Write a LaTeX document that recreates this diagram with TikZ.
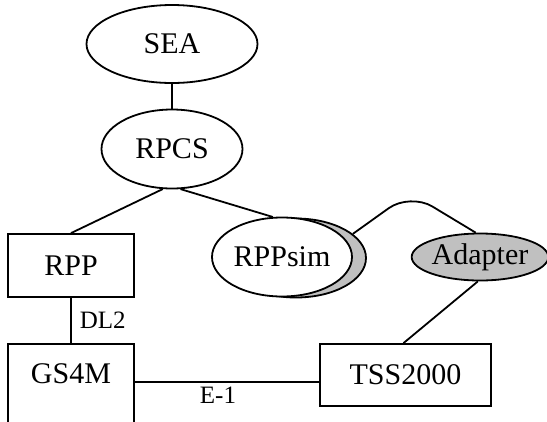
\documentclass[tikz,border=0pt]{standalone}
\usepackage{fontspec}
\setmainfont{Liberation Serif}
\usetikzlibrary{shapes.geometric}
\definecolor{shade}{RGB}{192,192,192}
\tikzset{
  every picture/.style={line width=1.8pt},
  bigtext/.style={font=\fontsize{30}{36}\selectfont},
  smalltext/.style={font=\fontsize{25}{30}\selectfont, inner sep=0pt},
  oval/.style={ellipse, draw, fill=white, inner sep=0pt, bigtext},
  boxnode/.style={rectangle, draw, fill=white, inner sep=0pt, bigtext},
  link/.style={draw, line width=1.8pt}
}
\begin{document}
\begin{tikzpicture}[x=1pt,y=-1pt]
\useasboundingbox (0,0) rectangle (547,421);
\clip (0,0) rectangle (547,421);
\fill[white] (0,0) rectangle (547,421);
\node[oval, minimum width=171pt, minimum height=78pt] (sea) at (172,44) {SEA};
\node[oval, minimum width=141pt, minimum height=79pt] (rpcs) at (172,149) {RPCS};
\node[boxnode, minimum width=126pt, minimum height=63pt] (rpp) at (71,265.5) {RPP};
\node[boxnode, minimum width=126pt, minimum height=100pt, anchor=north] (gs4m) at (71,343) {};
\node[bigtext, inner sep=0pt, anchor=north] (gs4mtext) at (71,363) {GS4M};
\node[ellipse, draw, fill=shade, inner sep=0pt, minimum width=140pt, minimum height=79pt] (rppshadow) at (296,258) {};
\node[oval, minimum width=140pt, minimum height=79pt] (rppsim) at (282,257) {RPPsim};
\node[oval, fill=shade, minimum width=134pt, minimum height=47pt] (adapter) at (480,257) {Adapter};
\node[boxnode, minimum width=171pt, minimum height=62pt] (tss) at (405.5,375) {TSS2000};
\coordinate (peak) at (410,193);
\draw[link] (sea.south) -- (rpcs.north);
\draw[link] (rpcs.257) -- (rpp.north);
\draw[link] (rpcs.282) -- (rppsim.103);
\draw[link, rounded corners=26pt] (rppshadow.23) -- (peak) -- (adapter.100);
\draw[link] (adapter.265) -- ([xshift=-2pt]tss.north);
\draw[link] (rpp.south) -- node[smalltext, anchor=west, xshift=8pt] (dl2) {DL2} (gs4m.north);
\coordinate (e1r) at ([yshift=-7pt]tss.west);
\draw[link] (gs4m.east |- e1r) -- node[smalltext, anchor=north, yshift=-4pt, xshift=-9pt] (e1) {E-1} (e1r);
\end{tikzpicture}
\end{document}
